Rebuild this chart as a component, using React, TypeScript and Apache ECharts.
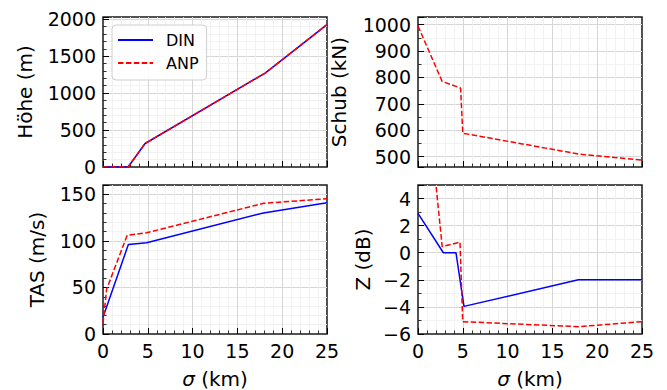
import React, { useEffect, useRef } from 'react';
import * as echarts from 'echarts';

// sigma (km) breakpoints with values
const hoeheDin = [[0, 0], [2.8, 0], [4.7, 318], [18.1, 1271], [25, 1928]];
const hoeheAnp = [[0, 0], [2.8, 0], [4.7, 318], [18.1, 1271], [25, 1928]];
const schubAnp = [[0, 995], [2.7, 785], [4.75, 760], [5.0, 589], [18.1, 509], [25, 487]];
const tasDin = [[0, 18], [2.83, 96], [4.87, 98], [17.9, 130], [25, 141]];
const tasAnp = [[0, 11], [0.4, 48], [2.7, 106], [4.87, 108.7], [17.9, 140.3], [25, 145.3]];
const zDin = [[0, 2.9], [2.83, 0], [4.24, 0], [5.13, -3.96], [17.9, -2], [25, -2]];
const zAnp = [[0, 18.2], [2.7, 0.45], [4.69, 0.78], [4.99, -5.09], [17.9, -5.46], [25, -5.09]];

const xTickLabels = [0, 5, 10, 15, 20, 25];
const hoeheTicks = [0, 500, 1000, 1500, 2000];
const schubTicks = [500, 600, 700, 800, 900, 1000];
const tasTicks = [0, 50, 100, 150];
const zTicks = [-6, -4, -2, 0, 2, 4];

const FONT = 'DejaVu Sans';
const BLUE = '#0000ff';
const RED = '#ff0000';

function nameStyle() {
  return {
    fontFamily: FONT,
    fontSize: 20,
    color: '#000',
    rich: { i: { fontFamily: FONT, fontSize: 20, fontStyle: 'italic', color: '#000' } },
  };
}

function common() {
  return {
    type: 'value',
    axisLine: { show: false, onZero: false },
    axisTick: { show: true, inside: true, length: 6, lineStyle: { color: '#000', width: 1 } },
    minorTick: { show: true, length: 3.5, lineStyle: { color: '#000', width: 0.8 } },
    splitLine: { show: true, showMinLine: false, showMaxLine: false, lineStyle: { color: '#d6d6d6', width: 1 } },
    minorSplitLine: { show: true, lineStyle: { color: '#efefef', width: 0.8 } },
    nameLocation: 'middle',
    nameTextStyle: nameStyle(),
  };
}

function makeX(gridIndex: number, showLabels: boolean) {
  const c: any = common();
  return {
    ...c,
    gridIndex,
    min: xTickLabels[0],
    max: xTickLabels[xTickLabels.length - 1],
    interval: 5,
    minorTick: { ...c.minorTick, splitNumber: 5 },
    axisLabel: {
      show: showLabels,
      fontFamily: FONT,
      fontSize: 19,
      color: '#000',
      margin: 7,
      formatter: (v: number) => (xTickLabels.includes(v) ? String(v) : ''),
    },
    name: showLabels ? '{i|σ} (km)' : '',
    nameGap: 35,
  };
}

function makeY(gridIndex: number, min: number, max: number, step: number, minorSplit: number, ticks: number[], name: string, gap: number) {
  const c: any = common();
  return {
    ...c,
    gridIndex,
    min,
    max,
    minInterval: step,
    maxInterval: step,
    splitNumber: Math.round((max - min) / step),
    minorTick: { ...c.minorTick, splitNumber: minorSplit },
    axisLabel: {
      show: true,
      fontFamily: FONT,
      fontSize: 19,
      color: '#000',
      margin: 7,
      formatter: (v: number) => {
        const r = Math.round(v * 1000) / 1000;
        return ticks.includes(r) ? String(r).replace('-', '\u2212') : '';
      },
    },
    name,
    nameGap: gap,
  };
}

function line(name: string, data: number[][], idx: number, color: string, dashed: boolean) {
  return {
    type: 'line',
    name,
    xAxisIndex: idx,
    yAxisIndex: idx,
    data,
    symbol: 'none',
    showSymbol: false,
    clip: true,
    silent: true,
    itemStyle: { color },
    lineStyle: dashed ? { color, width: 1.5, type: [5.5, 2.4] } : { color, width: 1.5 },
  };
}

export default function App() {
  const ref = useRef<HTMLDivElement>(null);
  useEffect(() => {
    if (!ref.current) return;
    const chart = echarts.init(ref.current, undefined, { renderer: 'svg' });
    const gridBase = {
      show: true,
      borderColor: '#1a1a1a',
      borderWidth: 1.5,
      backgroundColor: 'transparent',
      containLabel: false,
      outerBoundsMode: 'none',
    };
    chart.setOption({
      animation: false,
      backgroundColor: '#ffffff',
      textStyle: { fontFamily: FONT },
      grid: [
        { ...gridBase, left: 103, top: 17, width: 224, height: 150 },
        { ...gridBase, left: 418, top: 17, width: 224, height: 150 },
        { ...gridBase, left: 103, top: 185, width: 224, height: 149 },
        { ...gridBase, left: 418, top: 185, width: 224, height: 149 },
      ],
      xAxis: [makeX(0, false), makeX(1, false), makeX(2, true), makeX(3, true)],
      yAxis: [
        makeY(0, 0, 2030, 500, 5, hoeheTicks, 'Höhe (m)', 68),
        makeY(1, 461, 1029, 100, 2, schubTicks, 'Schub (kN)', 69),
        makeY(2, 0, 160, 50, 5, tasTicks, 'TAS (m/s)', 56),
        makeY(3, -6, 5, 2, 2, zTicks, 'Z (dB)', 45),
      ],
      legend: {
        data: ['DIN', 'ANP'],
        orient: 'vertical',
        left: 112,
        top: 25,
        itemWidth: 35,
        itemHeight: 14,
        itemGap: 7,
        padding: [7, 8, 9, 5],
        borderColor: '#cfcfcf',
        borderWidth: 1,
        borderRadius: 4,
        backgroundColor: 'rgba(255,255,255,0.85)',
        selectedMode: false,
        itemStyle: { opacity: 0, borderWidth: 0 },
        textStyle: { fontFamily: FONT, fontSize: 16, color: '#000', padding: [0, 0, 0, 8] },
      },
      series: [
        line('DIN', hoeheDin, 0, BLUE, false),
        line('ANP', hoeheAnp, 0, RED, true),
        line('ANP', schubAnp, 1, RED, true),
        line('DIN', tasDin, 2, BLUE, false),
        line('ANP', tasAnp, 2, RED, true),
        line('DIN', zDin, 3, BLUE, false),
        line('ANP', zAnp, 3, RED, true),
      ],
    });
    return () => chart.dispose();
  }, []);
  return <div ref={ref} style={{ position: 'fixed', left: 0, top: 0, width: 667, height: 390, background: '#fff' }} />;
}
